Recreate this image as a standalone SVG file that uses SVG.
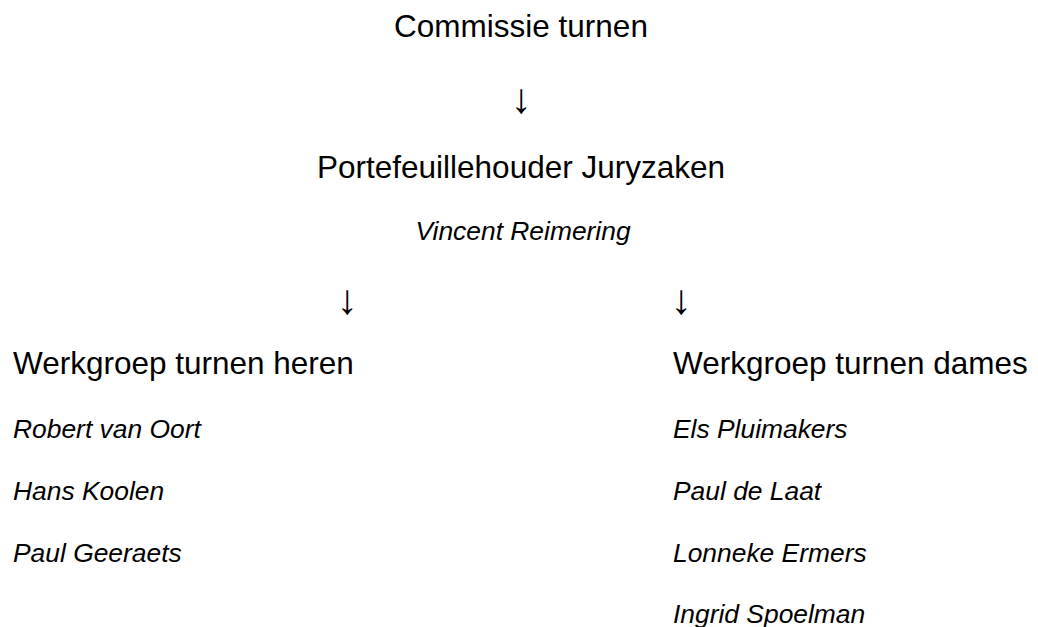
<svg xmlns="http://www.w3.org/2000/svg" width="1038" height="627" viewBox="0 0 1038 627">
<style>
text{font-family:"Liberation Sans",Arial,sans-serif;fill:#000}
.h{font-size:31.5px}
.n{font-size:26.4px;font-style:italic}
.a{font-size:42px}
.c{text-anchor:middle}
</style>
<rect width="1038" height="627" fill="#fff"/>
<g id="commissie"><text class="h c" x="521" y="37">Commissie turnen</text></g>
<g id="portefeuille">
<text class="h c" x="521" y="178">Portefeuillehouder Juryzaken</text>
<text class="n c" x="523" y="240">Vincent Reimering</text>
</g>
<g id="connectors">
<text class="a c" x="521" y="113">↓</text>
<text class="a c" x="347" y="314">↓</text>
<text class="a c" x="681" y="314">↓</text>
</g>
<g id="heren">
<text class="h" x="13" y="374">Werkgroep turnen heren</text>
<text class="n" x="13" y="438">Robert van Oort</text>
<text class="n" x="13" y="500">Hans Koolen</text>
<text class="n" x="13" y="562">Paul Geeraets</text>
</g>
<g id="dames">
<text class="h" x="673" y="374">Werkgroep turnen dames</text>
<text class="n" x="673" y="438">Els Pluimakers</text>
<text class="n" x="673" y="500">Paul de Laat</text>
<text class="n" x="673" y="562">Lonneke Ermers</text>
<text class="n" x="673" y="623">Ingrid Spoelman</text>
</g>
</svg>
